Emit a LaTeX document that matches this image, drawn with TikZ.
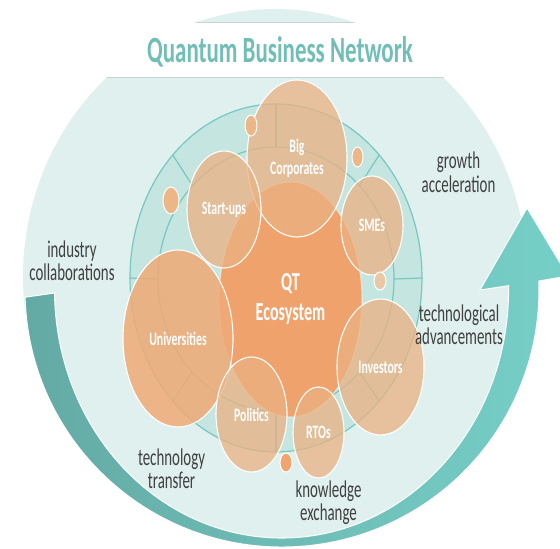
\documentclass[tikz,border=0pt]{standalone}
\usepackage{fontspec}
\usetikzlibrary{shapes.geometric,calc}
\newfontfamily\cbfont[FakeStretch=0.62]{Carlito}
\newcommand\myTitleFont{\cbfont\bfseries\fontsize{37bp}{40bp}\selectfont}
\newcommand\myAnnFont{\cbfont\fontsize{24bp}{23.5bp}\selectfont}
\newcommand\myBubFont{\cbfont\bfseries\fontsize{19bp}{22bp}\selectfont}
\newcommand\myQtFont{\cbfont\bfseries\fontsize{26bp}{30bp}\selectfont}
\definecolor{diskfill}{RGB}{223,240,239}
\definecolor{bandline}{RGB}{200,212,212}
\definecolor{radarfill}{RGB}{197,229,225}
\definecolor{radarline}{RGB}{118,200,192}
\definecolor{arrowL}{RGB}{100,170,164}
\definecolor{arrowR}{RGB}{118,208,200}
\definecolor{titleteal}{RGB}{112,190,182}
\definecolor{anngrey}{RGB}{64,64,64}
\definecolor{qtorange}{RGB}{240,162,108}
\definecolor{bubfill}{RGB}{235,178,130}
\definecolor{unifill}{RGB}{240,170,118}
\definecolor{dotfill}{RGB}{237,182,134}
\definecolor{dotpale}{RGB}{232,200,165}
\definecolor{dotdeep}{RGB}{240,165,110}
\tikzset{
  bub/.style={ellipse, draw=white, line width=1.1bp, fill=bubfill, fill opacity=0.75,
    text opacity=1, draw opacity=1, inner sep=0pt, text=white, font=\myBubFont, align=center},
  dot/.style={ellipse, draw=white, line width=1bp, fill=dotfill, inner sep=0pt},
  ann/.style={text=anngrey, font=\myAnnFont, align=center, inner sep=0pt},
  rline/.style={draw=radarline, line width=1.2bp}
}
\begin{document}
\begin{tikzpicture}[x=1bp,y=-1bp]
\useasboundingbox (0,0) rectangle (560,549);
\fill[white] (0,0) rectangle (560,549);
% light disk
\fill[diskfill] (275,277) ellipse [x radius=252, y radius=268];
% white title band
\fill[white] (0,22) rectangle (560,77);
\begin{scope}
  \clip (275,277) ellipse [x radius=252, y radius=268];
  \draw[bandline, line width=0.8bp] (0,77) -- (560,77);
  \draw[bandline, line width=0.6bp] (0,22) -- (560,22);
\end{scope}
% arrow
\shadedraw[left color=arrowL, right color=arrowR, draw=white, line width=1bp, line join=miter]
  (54.5,293) -- (25.1,297.2)
  arc[start angle=178.4, end angle=-2, radius=257]
  -- (568,276) -- (527,208) -- (480,290) -- (508.5,285.7)
  arc[start angle=-1, end angle=179.3, x radius=227, y radius=248]
  -- cycle;
% radar
\coordinate (rc) at (276,278);
\coordinate (ric) at (276,279);
\fill[radarfill] (rc) ellipse [x radius=146, y radius=174];
\draw[rline] (rc) ellipse [x radius=146, y radius=174];
\draw[rline] (ric) ellipse [x radius=118, y radius=132];
\foreach \a in {0,45,...,315}
  \draw[rline] ($(ric)+(\a:118 and 132)$) -- ($(rc)+(\a:146 and 174)$);
% bubbles
\node[bub, fill=qtorange, fill opacity=1, draw opacity=0.5, font=\myQtFont,
  minimum width=143bp, minimum height=235bp] (qt) at (290.5,299.5) {QT\\Ecosystem};
\node[bub, fill=unifill, fill opacity=0.85, minimum width=110bp, minimum height=177bp]
  (uni) at (178,338.5) {Universities};
\node[bub, minimum width=100bp, minimum height=157bp] (big) at (297,158.5) {Big\\Corporates};
\node[bub, minimum width=74bp, minimum height=117bp] (start) at (224,209.5) {Start-ups};
\node[bub, minimum width=62bp, minimum height=99bp] (sme) at (372,225.5) {SMEs};
\node[bub, minimum width=87bp, minimum height=136bp] (inv) at (380.5,367) {Investors};
\node[bub, minimum width=71bp, minimum height=115bp] (pol) at (251.5,414.5) {Politics};
\node[bub, minimum width=51bp, minimum height=91bp] (rto) at (318.5,432.5) {RTOs};
% small dots
\node[dot, minimum width=12bp, minimum height=21bp] (d1) at (251,125.5) {};
\node[dot, minimum width=11bp, minimum height=20bp] (d2) at (357.5,157) {};
\node[dot, minimum width=16bp, minimum height=27bp] (d3) at (171,200.5) {};
\node[dot, fill=dotpale, minimum width=12bp, minimum height=18bp] (d4) at (380,281) {};
\node[dot, fill=dotdeep, minimum width=12bp, minimum height=19bp] (d5) at (286,462.5) {};
% title
\node[text=titleteal, font=\myTitleFont, inner sep=0pt, anchor=base] (title) at (280,63) {Quantum Business Network};
% annotations
\node[ann] (growth) at (458.5,172.5) {growth\\acceleration};
\node[ann] (tech) at (459,325) {technological\\advancements};
\node[ann] (indus) at (72,261) {industry\\collaborations};
\node[ann] (transfer) at (171.5,469) {technology\\transfer};
\node[ann] (know) at (328.5,502.5) {knowledge\\exchange};
\end{tikzpicture}
\end{document}
